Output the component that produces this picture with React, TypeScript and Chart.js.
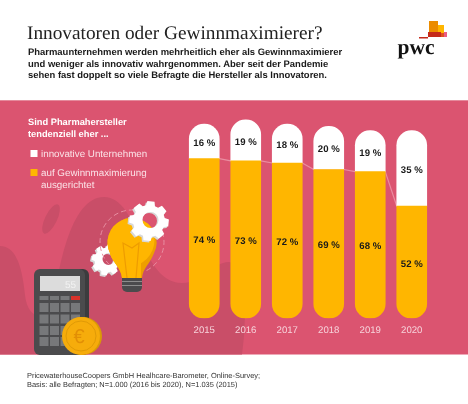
import { useEffect, useRef } from 'react'
import { Chart, registerables } from 'chart.js'

Chart.register(...registerables)

const years = ['2015', '2016', '2017', '2018', '2019', '2020']
const gewinn = [74, 73, 72, 69, 68, 52]
const innovativ = [16, 19, 18, 20, 19, 35]

const titleText = 'Innovatoren oder Gewinnmaximierer?'
const introLines = [
  'Pharmaunternehmen werden mehrheitlich eher als Gewinnmaximierer',
  'und weniger als innovativ wahrgenommen. Aber seit der Pandemie',
  'sehen fast doppelt so viele Befragte die Hersteller als Innovatoren.',
]
const questionLines = ['Sind Pharmahersteller', 'tendenziell eher ...']
const footerLines = [
  'PricewaterhouseCoopers GmbH Healhcare-Barometer, Online-Survey;',
  'Basis: alle Befragten; N=1.000 (2016 bis 2020), N=1.035 (2015)',
]

const PANEL = '#db5470'
const PANEL_DARK = '#c94e68'
const ORANGE = '#ffb600'
const SANS = '"Liberation Sans", Arial, sans-serif'
const SERIF = '"Liberation Serif", serif'

function text(ctx: CanvasRenderingContext2D, s: string, x: number, y: number, font: string, color: string, align: CanvasTextAlign = 'left') {
  ctx.font = font
  ctx.fillStyle = color
  ctx.textAlign = align
  ctx.textBaseline = 'alphabetic'
  ctx.fillText(s, x, y)
}

function rect(ctx: CanvasRenderingContext2D, x: number, y: number, w: number, h: number, color: string) {
  ctx.fillStyle = color
  ctx.fillRect(x, y, w, h)
}

function gearPath(ctx: CanvasRenderingContext2D, cx: number, cy: number, r: number, rot: number) {
  const teeth = 8
  const inner = r * 0.8
  ctx.beginPath()
  for (let i = 0; i < teeth; i++) {
    const a = rot + (i * Math.PI * 2) / teeth
    const w = Math.PI / teeth
    const pts: [number, number][] = [
      [inner, a - w * 0.72],
      [r, a - w * 0.46],
      [r, a + w * 0.46],
      [inner, a + w * 0.72],
    ]
    pts.forEach(([rad, ang], j) => {
      const px = cx + rad * Math.cos(ang)
      const py = cy + rad * Math.sin(ang)
      if (i === 0 && j === 0) ctx.moveTo(px, py)
      else ctx.lineTo(px, py)
    })
  }
  ctx.closePath()
}

function drawGear(ctx: CanvasRenderingContext2D, cx: number, cy: number, r: number, hole: number, rot: number) {
  ctx.save()
  ctx.fillStyle = '#d8d8d8'
  gearPath(ctx, cx - 1.5, cy + 1.5, r, rot)
  ctx.moveTo(cx + hole, cy)
  ctx.arc(cx, cy, hole, 0, Math.PI * 2, true)
  ctx.fill('evenodd')
  ctx.fillStyle = '#ffffff'
  gearPath(ctx, cx, cy, r, rot)
  ctx.moveTo(cx + 1.5 + hole, cy - 1)
  ctx.arc(cx + 1.5, cy - 1, hole, 0, Math.PI * 2, true)
  ctx.fill('evenodd')
  ctx.restore()
}

function bulbPath(ctx: CanvasRenderingContext2D) {
  ctx.beginPath()
  ctx.arc(132, 242.5, 24.5, Math.PI * 0.85, Math.PI * 0.15)
  ctx.bezierCurveTo(150, 264, 143, 268, 142, 278)
  ctx.lineTo(122, 278)
  ctx.bezierCurveTo(121, 268, 114, 264, 110, 254)
  ctx.closePath()
}

function drawBackdrop(ctx: CanvasRenderingContext2D) {
  rect(ctx, 0, 0, 468, 404, '#ffffff')
  rect(ctx, 0, 100, 468, 254.5, PANEL)
  rect(ctx, 0, 100, 468, 1, '#e58a9c')

  ctx.fillStyle = PANEL_DARK
  ctx.beginPath()
  ctx.moveTo(0, 246)
  ctx.bezierCurveTo(14, 246, 22, 262, 25, 295)
  ctx.bezierCurveTo(27, 315, 40, 322, 52, 312)
  ctx.bezierCurveTo(58, 270, 70, 197, 104, 197)
  ctx.bezierCurveTo(140, 197, 140, 283, 182, 283)
  ctx.bezierCurveTo(205, 283, 212, 262, 229, 262)
  ctx.bezierCurveTo(240, 262, 250, 300, 242, 354.5)
  ctx.lineTo(0, 354.5)
  ctx.closePath()
  ctx.fill()
  ctx.beginPath()
  ctx.ellipse(51, 219, 6, 16, 0.45, 0, Math.PI * 2)
  ctx.fill()

  drawGear(ctx, 107, 260, 15.5, 6, 0.2)

  // bulb, with the darker crescent on its right
  ctx.fillStyle = '#ee9f00'
  bulbPath(ctx)
  ctx.fill()
  ctx.save()
  bulbPath(ctx)
  ctx.clip()
  ctx.fillStyle = ORANGE
  ctx.beginPath()
  ctx.arc(127.5, 240, 27, 0, Math.PI * 2)
  ctx.fill()
  rect(ctx, 105, 256, 36, 22, ORANGE)
  ctx.restore()
  ctx.strokeStyle = '#ee9c00'
  ctx.lineWidth = 1.2
  ctx.beginPath()
  ctx.moveTo(127, 278)
  ctx.lineTo(123, 243)
  ctx.lineTo(132, 248)
  ctx.lineTo(139, 243)
  ctx.lineTo(136, 278)
  ctx.stroke()
  ctx.fillStyle = '#4b4b4d'
  ctx.beginPath()
  ctx.roundRect(122, 278, 20, 14, [0, 0, 5, 5])
  ctx.fill()
  rect(ctx, 122, 281, 20, 1, '#8d8d8d')
  rect(ctx, 122, 285, 20, 1, '#8d8d8d')
  ctx.strokeStyle = '#e88fa2'
  ctx.lineWidth = 1
  ctx.setLineDash([5, 3])
  ctx.beginPath()
  ctx.arc(132, 242, 32, Math.PI * 0.75, Math.PI * 1.55)
  ctx.stroke()
  ctx.beginPath()
  ctx.arc(132, 242, 32, -Math.PI * 0.1, Math.PI * 0.35)
  ctx.stroke()
  ctx.setLineDash([])

  drawGear(ctx, 149, 221, 20, 8, 0.1)

  // calculator
  ctx.fillStyle = '#3c3c3e'
  ctx.beginPath()
  ctx.roundRect(36, 269, 53, 86, 6)
  ctx.fill()
  ctx.fillStyle = '#4b4b4d'
  ctx.beginPath()
  ctx.roundRect(34, 269, 51, 86, 6)
  ctx.fill()
  rect(ctx, 40, 276, 40, 15, '#dcdcdc')
  text(ctx, '55', 76, 288, `10px ${SANS}`, '#f2f2f2', 'right')
  const keyX = [39.5, 50, 60.5, 71]
  keyX.forEach((x, i) => rect(ctx, x, 296, 9, 4, i === 3 ? '#d8322a' : '#77787a'))
  ;[303, 314.5, 326, 337].forEach((y) => keyX.forEach((x) => rect(ctx, x, y, 9, 9, '#77787a')))

  // coin
  ctx.fillStyle = '#d99a06'
  ctx.beginPath()
  ctx.arc(83, 336, 19, 0, Math.PI * 2)
  ctx.fill()
  ctx.fillStyle = '#f6ac0b'
  ctx.beginPath()
  ctx.arc(81, 336, 19, 0, Math.PI * 2)
  ctx.fill()
  ctx.strokeStyle = '#e09a06'
  ctx.lineWidth = 1
  ctx.beginPath()
  ctx.arc(81, 336, 15, 0, Math.PI * 2)
  ctx.stroke()
  text(ctx, '€', 79, 343, `20px ${SANS}`, '#e28f05', 'center')

  // logo
  rect(ctx, 429, 21, 9, 11, '#eb8c00')
  rect(ctx, 438, 25, 6, 8, '#ffb600')
  rect(ctx, 428, 32, 13, 5, '#c52a1a')
  rect(ctx, 441, 33, 3, 4, '#e0501e')
  rect(ctx, 444, 32, 3, 5, '#eb5c82')
  rect(ctx, 419, 37, 9, 1.5, '#c52a1a')
  text(ctx, 'pwc', 397.5, 53.5, `bold 21.5px ${SERIF}`, '#111111')

  // header
  text(ctx, titleText, 27, 38.5, `19.3px ${SERIF}`, '#222222')
  introLines.forEach((l, i) => text(ctx, l, 28, 55.2 + i * 11.3, `bold 9.45px ${SANS}`, '#1a1a1a'))

  // question + legend
  questionLines.forEach((l, i) => text(ctx, l, 28, 125 + i * 11.6, `bold 9.3px ${SANS}`, '#ffffff'))
  rect(ctx, 30.5, 150, 7, 7, '#ffffff')
  rect(ctx, 30.5, 169, 7, 7, ORANGE)
  text(ctx, 'innovative Unternehmen', 41, 157, `9.8px ${SANS}`, '#fbe3e8')
  text(ctx, 'auf Gewinnmaximierung', 41, 175.5, `9.8px ${SANS}`, '#fbe3e8')
  text(ctx, 'ausgerichtet', 41, 188, `9.8px ${SANS}`, '#fbe3e8')

  // source
  footerLines.forEach((l, i) => text(ctx, l, 27, 378 + i * 9.2, `7.45px ${SANS}`, '#333333'))
}

const artPlugin = {
  id: 'art',
  beforeDraw(chart: any) {
    // linear glyph metrics, stays set for the tick labels too
    chart.ctx.textRendering = 'geometricPrecision'
    drawBackdrop(chart.ctx)
  },
  beforeDatasetsDraw(chart: any) {
    // thin connectors between the orange tops
    const bars = chart.getDatasetMeta(0).data
    const ctx = chart.ctx
    ctx.save()
    ctx.strokeStyle = '#ea8ea1'
    ctx.lineWidth = 1.2
    for (let i = 0; i < bars.length - 1; i++) {
      ctx.beginPath()
      ctx.moveTo(bars[i].x + 15, bars[i].y)
      ctx.lineTo(bars[i + 1].x - 15, bars[i + 1].y)
      ctx.stroke()
    }
    ctx.restore()
  },
  afterDatasetsDraw(chart: any) {
    const ctx = chart.ctx
    ctx.save()
    chart.data.datasets.forEach((ds: any, d: number) => {
      chart.getDatasetMeta(d).data.forEach((bar: any, i: number) => {
        const mid = (bar.y + bar.base) / 2 + 3.5
        text(ctx, `${ds.data[i]} %`, bar.x, mid + 1, `bold 9.6px ${SANS}`, '#1a1a1a', 'center')
      })
    })
    ctx.restore()
  },
}

export default function App() {
  const chartRef = useRef<HTMLCanvasElement>(null)

  useEffect(() => {
    if (!chartRef.current) return
    document.body.style.margin = '0'

    const chart = new Chart(chartRef.current, {
      type: 'bar',
      data: {
        labels: years,
        datasets: [
          {
            label: 'auf Gewinnmaximierung ausgerichtet',
            data: gewinn,
            backgroundColor: ORANGE,
            borderSkipped: false,
            borderRadius: { topLeft: 0, topRight: 0, bottomLeft: 15, bottomRight: 15 },
            barThickness: 30,
          },
          {
            label: 'innovative Unternehmen',
            data: innovativ,
            backgroundColor: '#ffffff',
            borderSkipped: false,
            borderRadius: { topLeft: 15, topRight: 15, bottomLeft: 0, bottomRight: 0 },
            barThickness: 30,
          },
        ],
      },
      options: {
        responsive: false,
        animation: false,
        layout: { padding: { left: 183.5, right: 35.5, top: 102.6, bottom: 65.7 } },
        plugins: { legend: { display: false }, tooltip: { enabled: false } },
        scales: {
          x: {
            stacked: true,
            grid: { display: false, drawTicks: false },
            border: { display: false },
            afterFit: (scale: any) => {
              scale.height = 20
            },
            ticks: {
              color: '#f7d3db',
              padding: 6.5,
              font: { family: SANS, size: 9.6 },
            },
          },
          y: { stacked: true, display: false, min: 0, max: 100 },
        },
      },
      plugins: [artPlugin],
    })

    return () => chart.destroy()
  }, [])

  return <canvas ref={chartRef} width={468} height={404} style={{ display: 'block' }} />
}
